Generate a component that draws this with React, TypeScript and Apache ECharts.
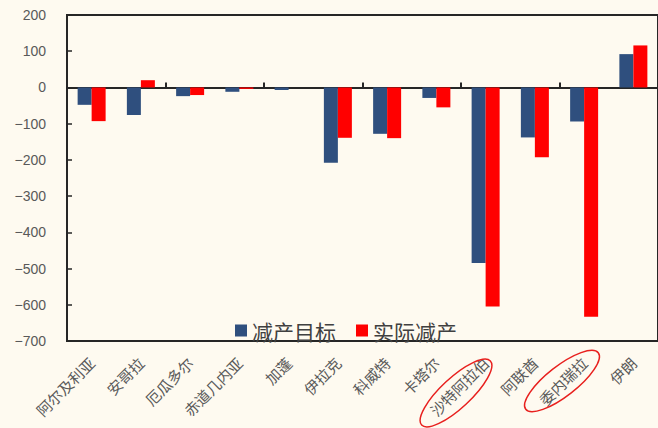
import React, { useEffect, useRef } from "react";
import * as echarts from "echarts";

// OPEC members: production cut target vs. actual cut (thousand barrels/day)
const categories = [
  "阿尔及利亚",
  "安哥拉",
  "厄瓜多尔",
  "赤道几内亚",
  "加蓬",
  "伊拉克",
  "科威特",
  "卡塔尔",
  "沙特阿拉伯",
  "阿联酋",
  "委内瑞拉",
  "伊朗",
];
const targetCut = [-48, -76, -24, -12, -7, -208, -128, -29, -485, -138, -94, 92];
const actualCut = [-93, 20, -21, -4, 0, -139, -140, -55, -605, -193, -633, 116];
const seriesNames = ["减产目标", "实际减产"];

const FONT = "'Noto Sans CJK SC', 'Noto Sans', sans-serif";
const NUM_FONT = "'Liberation Sans', Arial, sans-serif";
const LINE = "#262626";
const TEXT = "#595959";

export default function App() {
  const ref = useRef<HTMLDivElement>(null);

  useEffect(() => {
    if (!ref.current) return;
    const chart = echarts.init(ref.current, null, { renderer: "svg" });
    chart.setOption({
      animation: false,
      backgroundColor: "#FEFAF0",
      textStyle: { fontFamily: FONT },
      grid: {
        left: 67,
        right: -2,
        top: 15,
        bottom: 87,
        show: true,
        borderColor: LINE,
        borderWidth: 2,
        backgroundColor: "transparent",
      },
      legend: {
        data: seriesNames,
        left: 230,
        top: 315,
        itemWidth: 12,
        itemHeight: 12,
        itemGap: 20,
        icon: "rect",
        textStyle: { fontSize: 21, color: "#404040", fontFamily: FONT },
      },
      xAxis: [
        {
          type: "category",
          data: categories,
          position: "bottom",
          axisLine: { show: true, onZero: false, lineStyle: { color: LINE, width: 2 } },
          axisTick: { show: false },
          axisLabel: {
            rotate: 45,
            interval: 0,
            margin: 19,
            fontSize: 15,
            color: TEXT,
            fontFamily: FONT,
          },
        },
        {
          type: "category",
          data: categories,
          position: "top",
          axisLine: { show: true, onZero: true, lineStyle: { color: LINE, width: 2 } },
          axisTick: { show: true, inside: false, length: 5, lineStyle: { color: LINE, width: 2 } },
          axisLabel: { show: false },
        },
      ],
      yAxis: {
        type: "value",
        min: -700,
        max: 200,
        interval: 100,
        axisLine: { show: true, lineStyle: { color: LINE, width: 2 } },
        axisTick: { show: true, inside: true, length: 5, lineStyle: { color: LINE, width: 1.5 } },
        splitLine: { show: false },
        axisLabel: {
          margin: 21,
          fontSize: 14,
          color: TEXT,
          fontFamily: NUM_FONT,
          formatter: (v: number) => String(v).replace("-", "−"),
        },
      },
      series: [
        {
          name: seriesNames[0],
          type: "bar",
          xAxisIndex: 0,
          data: targetCut,
          barWidth: 14,
          barGap: "0%",
          itemStyle: { color: "#2F4F7E" },
        },
        {
          name: seriesNames[1],
          type: "bar",
          xAxisIndex: 0,
          data: actualCut,
          barWidth: 14,
          barGap: "0%",
          itemStyle: { color: "#FF0000" },
        },
      ],
      graphic: [
        {
          type: "ellipse",
          x: 456,
          y: 393,
          rotation: (43 * Math.PI) / 180,
          shape: { cx: 0, cy: 0, rx: 47, ry: 15 },
          style: { fill: "none", stroke: "#E8201E", lineWidth: 1.5 },
          z: 100,
        },
        {
          type: "ellipse",
          x: 562,
          y: 381,
          rotation: (38 * Math.PI) / 180,
          shape: { cx: 0, cy: 0, rx: 46, ry: 15 },
          style: { fill: "none", stroke: "#E8201E", lineWidth: 1.5 },
          z: 100,
        },
      ],
    });
    return () => chart.dispose();
  }, []);

  return (
    <div
      ref={ref}
      style={{ position: "absolute", left: 0, top: 0, width: 658, height: 428 }}
    />
  );
}
